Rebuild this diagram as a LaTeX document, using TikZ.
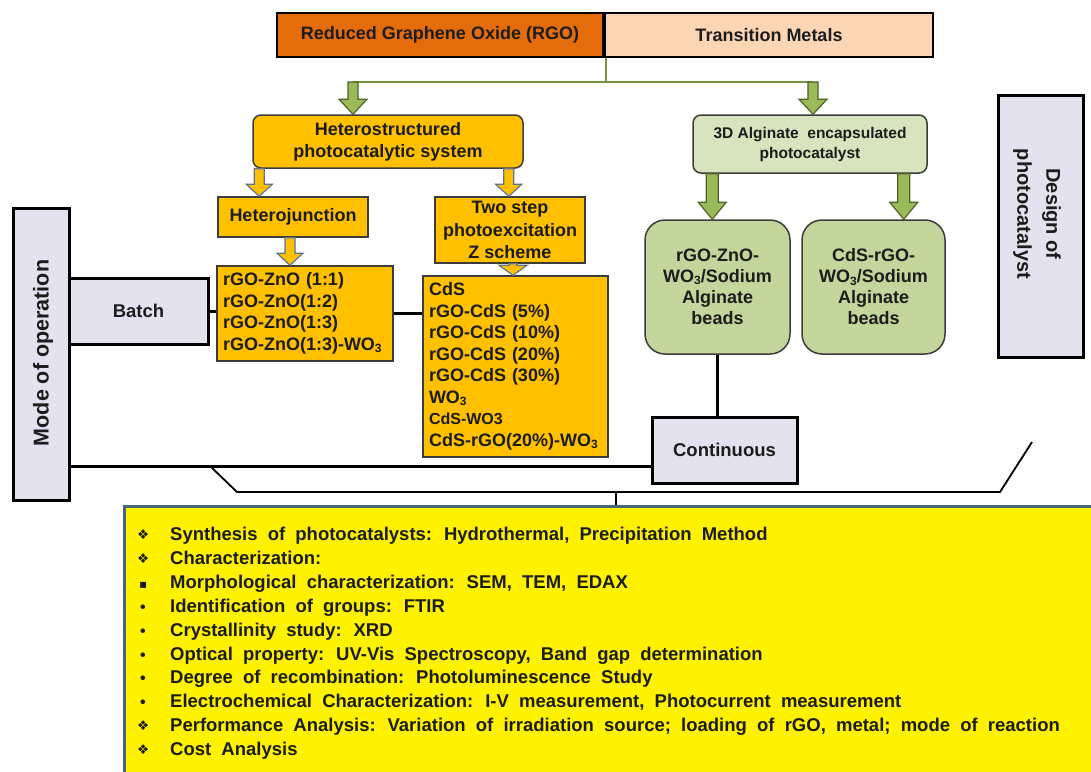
\documentclass[tikz,border=0pt]{standalone}
\usepackage{fontspec}
\setmainfont{Liberation Sans}
\newfontfamily\symfont{DejaVu Sans}
\usetikzlibrary{calc}

\definecolor{rgoorange}{RGB}{228,108,10}
\definecolor{tmpeach}{RGB}{252,213,181}
\definecolor{amber}{RGB}{255,192,0}
\definecolor{paleg}{RGB}{215,228,189}
\definecolor{beadg}{RGB}{195,214,155}
\definecolor{lineg}{RGB}{119,147,60}
\definecolor{arrowg}{RGB}{155,187,89}
\definecolor{arrowgedge}{RGB}{79,98,40}
\definecolor{arrowoedge}{RGB}{95,115,150}
\definecolor{lav}{RGB}{228,226,238}
\definecolor{panelblue}{RGB}{75,100,125}
\definecolor{ink}{RGB}{28,28,28}
\definecolor{boxedge}{RGB}{60,60,60}

% subscript digit as used in the formulas
\newcommand\subs[1]{\raisebox{-0.12em}{\fontsize{12}{12}\selectfont #1}}
% bullets of the method list
\newcommand\bulD{{\symfont\fontsize{13.5}{13.5}\selectfont\raisebox{0.05em}{❖}}}
\newcommand\bulS{{\symfont\fontsize{12}{12}\selectfont ▪}}
\newcommand\bulC{{\fontsize{16}{16}\selectfont •}}
% wider word spacing for the method list
\newcommand\widewords{\spaceskip=0.55em plus 0.1em\relax}
\newcommand\itemline[2]{\widewords\makebox[35pt][l]{\hspace{2pt}#1}#2}

% block arrow between two points (vertical, top to bottom)
\tikzset{
  arrshaft/.store in=\arrshaft, arrhead/.store in=\arrhead, arrlen/.store in=\arrlen,
  arrshaft=5, arrhead=13, arrlen=12}
\newcommand\blockarrow[3][]{%
  \path[#1] let \p1=(#2), \p2=(#3) in
    (\x1-\arrshaft pt,\y1) -- (\x1-\arrshaft pt,\y2+\arrlen pt)
    -- (\x1-\arrhead pt,\y2+\arrlen pt) -- (\x1,\y2)
    -- (\x1+\arrhead pt,\y2+\arrlen pt) -- (\x1+\arrshaft pt,\y2+\arrlen pt)
    -- (\x1+\arrshaft pt,\y1) -- cycle;}

\begin{document}
\begin{tikzpicture}[x=1pt,y=-1pt,
  basefont/.style={font=\bfseries\fontsize{18}{22}\selectfont, text=ink},
  topbar/.style={basefont, draw=black, line width=2pt, inner sep=0pt},
  ambox/.style={basefont, draw=boxedge, line width=1.5pt, fill=amber, inner sep=0pt, align=center},
  listtext/.style={align=left, font=\bfseries\fontsize{18}{21.5}\selectfont},
  greenbox/.style={basefont, draw=boxedge, line width=1.5pt, fill=paleg, inner sep=0pt, align=center},
  beadbox/.style={basefont, draw=boxedge, line width=1.5pt, fill=beadg, inner sep=0pt, align=center,
    font=\bfseries\fontsize{18}{21}\selectfont},
  greybox/.style={basefont, font=\bfseries\fontsize{18.5}{22}\selectfont, draw=black, line width=3pt, fill=lav, inner sep=0pt},
  panelbox/.style={draw=panelblue, line width=2.5pt, fill=yellow, inner sep=0pt},
  itemtext/.style={inner sep=0pt, text=ink, anchor=base west,
    font=\bfseries\fontsize{18.5}{24}\selectfont},
  busline/.style={draw=lineg, line width=2.5pt},
  link/.style={draw=black, line width=3pt},
  brace/.style={draw=black, line width=1.8pt, line join=miter},
  greenarrow/.style={fill=arrowg, draw=arrowgedge, line width=1.2pt, arrshaft=5, arrhead=14, arrlen=15},
  greenarrowlow/.style={fill=arrowg, draw=arrowgedge, line width=1.2pt, arrshaft=6, arrhead=14, arrlen=17},
  orangearrow/.style={fill=amber, draw=arrowoedge, line width=1.2pt, arrshaft=5, arrhead=13, arrlen=12},
  orangearrowsmall/.style={fill=amber, draw=arrowoedge, line width=1.2pt, arrshaft=4, arrhead=14, arrlen=10}
]
\useasboundingbox (0,0) rectangle (1091,771);
\fill[white] (0,0) rectangle (1091,771);

% ---------- header bar ----------
\node[topbar, fill=rgoorange, minimum width=326pt, minimum height=44pt] (rgo) at (440,35) {Reduced Graphene Oxide (RGO)};
\node[topbar, fill=tmpeach, minimum width=328pt, minimum height=44pt] (tm) at (769,35) {Transition Metals};

% ---------- photocatalyst design ----------
\node[ambox, rounded corners=8pt, minimum width=270pt, minimum height=53pt] (het) at (388,141.5) {Heterostructured\\photocatalytic system};
\node[ambox, minimum width=150pt, minimum height=40pt] (hj) at (293,217) {Heterojunction};
\node[ambox, minimum width=150pt, minimum height=66pt, font=\bfseries\fontsize{18}{22.5}\selectfont] (zs) at (510,230) {Two step\\photoexcitation\\Z scheme};
\node[ambox, listtext, minimum width=176pt, minimum height=95pt, text width=164pt] (zno) at (305,313.5)
  {rGO-ZnO (1:1)\\rGO-ZnO(1:2)\\rGO-ZnO(1:3)\\rGO-ZnO(1:3)-WO\subs{3}};
\node[ambox, listtext, minimum width=185pt, minimum height=181pt, text width=173pt] (cds) at (515.5,366.5)
  {CdS\\rGO-CdS (5\%)\\rGO-CdS (10\%)\\rGO-CdS (20\%)\\rGO-CdS (30\%)\\WO\subs{3}\\{\fontsize{16}{16}\selectfont CdS-WO3}\\CdS-rGO(20\%)-WO\subs{3}};

\node[greenbox, rounded corners=8pt, minimum width=234pt, minimum height=58pt, font=\bfseries\fontsize{15.5}{20}\selectfont] (alg) at (810,144)
  {3D Alginate\ \ encapsulated\\photocatalyst};
\node[beadbox, rounded corners=20pt, minimum width=145pt, minimum height=134pt] (gz) at (717.5,287) {rGO-ZnO-\\WO\subs{3}/Sodium\\Alginate\\beads};
\node[beadbox, rounded corners=20pt, minimum width=143pt, minimum height=134pt] (gc) at (873.5,287) {CdS-rGO-\\WO\subs{3}/Sodium\\Alginate\\beads};

\node[greybox, minimum width=85pt, minimum height=262pt] (design) at (1040.5,226) {};
\node[basefont, rotate=-90, align=center, inner sep=0pt, font=\bfseries\fontsize{20}{29}\selectfont] (designlabel) at (1037,214) {Design of\\photocatalyst};

% ---------- mode of operation ----------
\node[greybox, minimum width=56pt, minimum height=292pt] (modebox) at (41,354) {};
\node[basefont, rotate=90, inner sep=0pt, font=\bfseries\fontsize{21.5}{24}\selectfont] (modelabel) at (43,353) {Mode of operation};
\node[greybox, minimum width=139pt, minimum height=66pt] (batch) at (138.5,311) {Batch};
\node[greybox, minimum width=145pt, minimum height=66pt] (cont) at (724.5,450) {Continuous};

% ---------- green bus and arrows ----------
\coordinate (busTop) at ($(tm.south west)+(2,0)$);
\coordinate (busL) at (353,82);
\coordinate (busR) at (813,82);
\draw[busline] (busTop) -- (busTop |- busL);
\draw[busline] (busL) -- (busR);
\blockarrow[greenarrow]{busL}{busL |- het.north}
\blockarrow[greenarrow]{busR}{busR |- alg.north}

\coordinate (hetL) at ($(het.south west)+(7,0)$);
\coordinate (hetR) at ($(het.south east)+(-15,0)$);
\coordinate (hjS) at ($(hj.south)+(-3,0)$);
\coordinate (zsS) at ($(zs.south)+(3,0)$);
\blockarrow[orangearrow]{hetL}{hetL |- hj.north}
\blockarrow[orangearrow]{hetR}{hetR |- zs.north}
\blockarrow[orangearrow]{hjS}{hjS |- zno.north}
\blockarrow[orangearrowsmall]{zsS}{zsS |- cds.north}

\coordinate (algL) at ($(alg.south west)+(20,0)$);
\coordinate (algR) at ($(alg.south east)+(-24,0)$);
\blockarrow[greenarrowlow]{algL}{algL |- gz.north}
\blockarrow[greenarrowlow]{algR}{algR |- gc.north}

% ---------- operation links ----------
\draw[link] (batch.east) -- (batch.east -| zno.west);
\draw[link] (zno.east) -- (zno.east -| cds.west);
\coordinate (opline) at (400,466);
\draw[link] (modebox.east |- opline) -- (cont.west |- opline);
\draw[link] (gz.south) -- (gz.south |- cont.north);

% ---------- method panel ----------
\node[panelbox, anchor=north west, minimum width=972pt, minimum height=268pt] (panel) at (123,505) {};
\coordinate (br1) at (210,466);
\coordinate (br2) at (237,492);
\coordinate (br3) at (1000,492);
\coordinate (br4) at (1032,442);
\coordinate (tick) at (616,492);
\draw[brace] (br1) -- (br2) -- (br3) -- (br4);
\draw[draw=black, line width=2.5pt] (tick) -- (tick |- panel.north);

\node[itemtext] (i1) at (135,540) {\itemline{\bulD}{Synthesis of photocatalysts: Hydrothermal, Precipitation Method}};
\node[itemtext] (i2) at (135,564) {\itemline{\bulD}{Characterization:}};
\node[itemtext] (i3) at (135,588) {\itemline{\hspace{2pt}\bulS}{Morphological characterization: SEM, TEM, EDAX}};
\node[itemtext] (i4) at (135,612) {\itemline{\hspace{3pt}\bulC}{Identification of groups: FTIR}};
\node[itemtext] (i5) at (135,636) {\itemline{\hspace{3pt}\bulC}{Crystallinity study: XRD}};
\node[itemtext] (i6) at (135,660) {\itemline{\hspace{3pt}\bulC}{Optical property: UV-Vis Spectroscopy, Band gap determination}};
\node[itemtext] (i7) at (135,683) {\itemline{\hspace{3pt}\bulC}{Degree of recombination: Photoluminescence Study}};
\node[itemtext] (i8) at (135,707) {\itemline{\hspace{3pt}\bulC}{Electrochemical Characterization: I-V measurement, Photocurrent measurement}};
\node[itemtext] (i9) at (135,731) {\itemline{\bulD}{Performance Analysis: Variation of irradiation source; loading of rGO, metal; mode of reaction}};
\node[itemtext] (i10) at (135,755) {\itemline{\bulD}{Cost Analysis}};
\end{tikzpicture}
\end{document}
